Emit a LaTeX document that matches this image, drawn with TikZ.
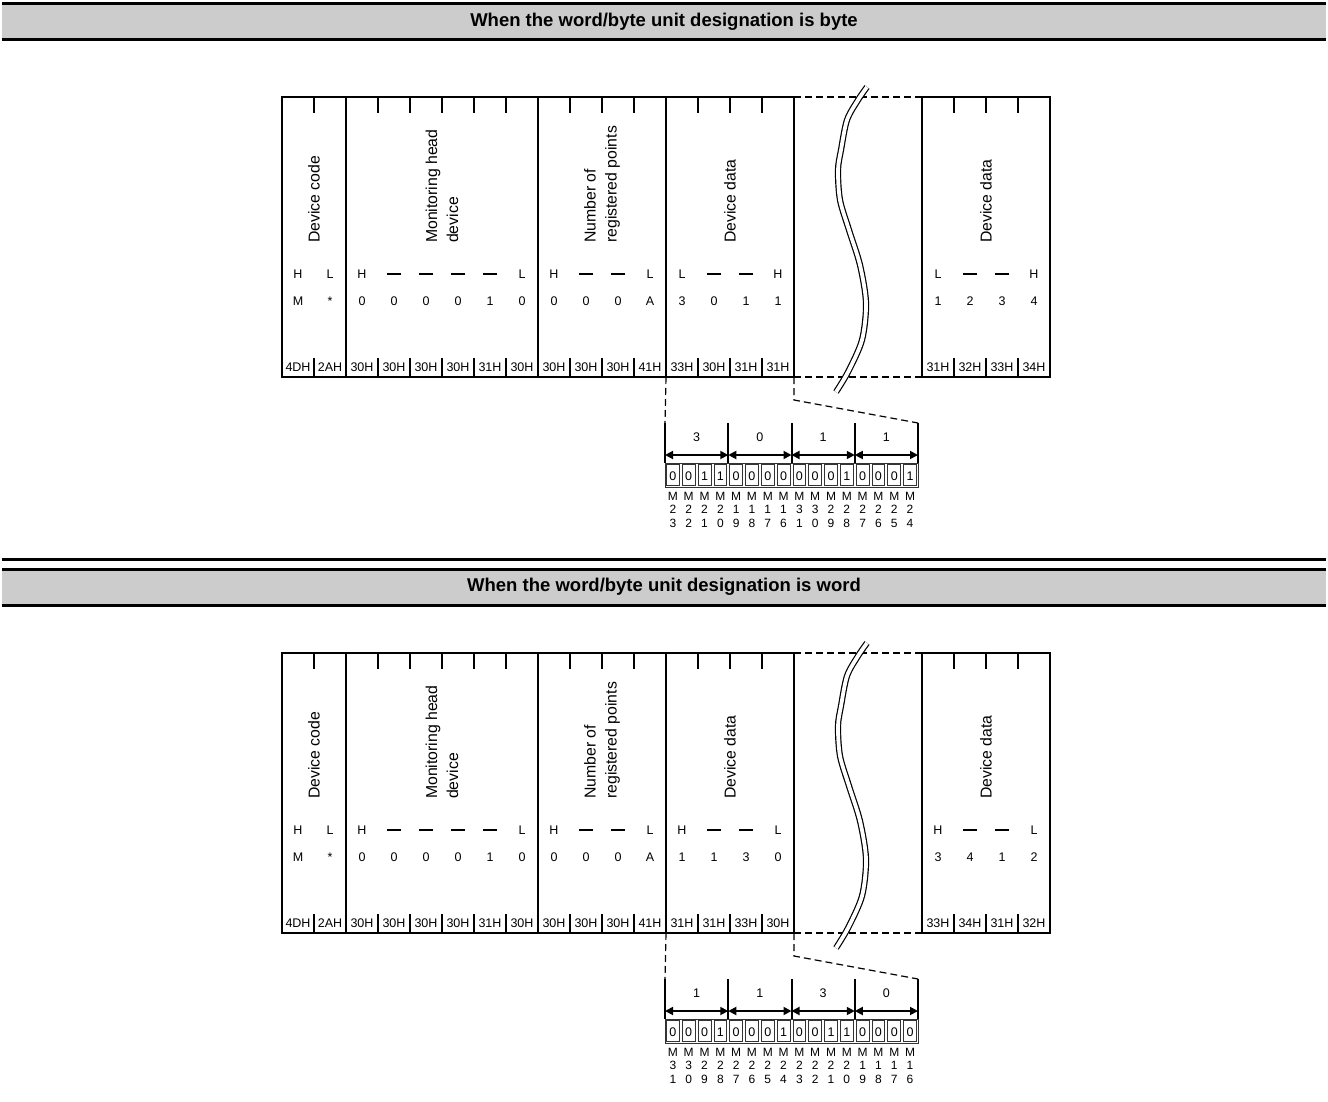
\documentclass[tikz,border=0pt]{standalone}
\usepackage{fontspec}
\setmainfont{Liberation Sans}
\usetikzlibrary{arrows.meta}

\tikzset{
  frameline/.style={line width=2pt},
  gapline/.style={line width=1.2pt, dash pattern=on 7pt off 4pt},
  cellnum/.style={font=\fontsize{12.5}{14}\selectfont, inner sep=0pt, text height=9pt, text depth=0pt},
  fieldname/.style={font=\fontsize{15.8}{21}\selectfont, rotate=90, anchor=west, align=left, inner sep=0pt},
  headtext/.style={font=\fontsize{18.5}{20}\selectfont\bfseries, inner sep=0pt},
  bitbox/.style={line width=0.8pt, draw=black!80},
  bitspan/.style={line width=1.8pt, {Triangle[length=8pt,width=8pt]}-{Triangle[length=8pt,width=8pt]}},
  mlabel/.style={font=\fontsize{12}{13.5}\selectfont, align=center, inner sep=0pt, anchor=north},
}
\newcommand{\dsh}{\rule[3.5pt]{14pt}{2pt}}

% #1 tag, #2 shift down, #3 device data cells, #4 digits, #5 bits
\newcommand{\wordframe}[5]{%
\begin{scope}[yshift=-#2pt]
    % Draw the frame blocks and the gap between them
    \draw[frameline] (282,97) rectangle (794,377);
    \draw[frameline] (922,97) rectangle (1050,377);
    \foreach \x in {346,538,666} \draw[frameline] (\x,97) -- (\x,377);
    \foreach \x in {314,378,410,442,474,506,570,602,634,698,730,762,954,986,1018} {
        \draw[frameline] (\x,97) -- (\x,113);
        \draw[frameline] (\x,358) -- (\x,377);
    }
    \coordinate (#1-fl) at (666,377);
    \coordinate (#1-fr) at (794,377);
    \draw[gapline] (794,97) -- (922,97);
    \draw[gapline] (#1-fr) -- (922,377);

    % Field names
    \node[fieldname] (#1-code) at (314,243) {Device code};
    \node[fieldname] (#1-head) at (442,243) {Monitoring head\\device};
    \node[fieldname] (#1-pts) at (602,243) {Number of\\registered points};
    \node[fieldname] (#1-data) at (730,243) {Device data};
    \node[fieldname] (#1-last) at (986,243) {Device data};

    % Order, character and code of each cell
    \foreach \ltr/\val/\hexv [count=\i from 0] in {H/M/4DH, L/*/2AH, H/0/30H, \dsh/0/30H,
        \dsh/0/30H, \dsh/0/30H, \dsh/1/31H, L/0/30H, H/0/30H, \dsh/0/30H, \dsh/0/30H, L/A/41H, #3} {
        \pgfmathsetmacro{\cx}{298+32*\i+128*(\i>15)}
        \node[cellnum] (#1-lt\i) at (\cx,274) {\ltr};
        \node[cellnum] (#1-v\i) at (\cx,300.5) {\val};
        \node[cellnum] (#1-hx\i) at (\cx,367) {\hexv};
    }

    % Break in the frame
    \draw[line width=1.2pt, double distance=3.8pt] plot[smooth] coordinates {(867,87) (858,100)
        (847,120) (841,150) (838,170) (840,200) (849,230) (860,265) (866,303) (862,340) (848,372) (836,392)};

    % Bits of the first device data
    \foreach \k in {0,...,4} {
        \coordinate (#1-b\k) at ({665+63.25*\k},423);
        \coordinate (#1-a\k) at ({665+63.25*\k},455);
        \draw[frameline] (#1-b\k) -- ++(0,40);
    }
    \draw[gapline] (#1-fl) -- (#1-b0);
    \draw[gapline] (#1-fr) -- ++(0,23) -- (#1-b4);
    \foreach \d [count=\k from 0, evaluate=\k as \n using int(\k+1)] in {#4} {
        \draw[bitspan] (#1-a\k) -- (#1-a\n);
        \node[cellnum] (#1-d\k) at ({696.6+63.25*\k},437) {\d};
    }
    \draw[bitbox] (665,463) rectangle (918,487);
    \foreach \b/\hi/\lo [count=\k from 0] in {#5} {
        \draw[bitbox] ({665+15.81*\k+1.5},464.5) rectangle ({665+15.81*(\k+1)-1.5},485.5);
        \node[cellnum] (#1-bit\k) at ({665+15.81*(\k+0.5)},476) {\b};
        \node[mlabel] (#1-m\k) at ({665+15.81*(\k+0.5)},492) {M\\\hi\\\lo};
    }
\end{scope}}

\begin{document}
\begin{tikzpicture}[x=1pt, y=-1pt]
    \useasboundingbox (0,0) rectangle (1328,1102);

    % Headings
    \foreach \hy/\ttl [count=\s] in {4/byte, 569/word} {
        \fill[black!20] (2,\hy) rectangle (1326,{\hy+36});
        \draw[line width=3pt] (2,\hy) -- (1326,\hy);
        \draw[line width=3pt] (2,{\hy+36}) -- (1326,{\hy+36});
        \node[headtext] (title\s) at (664,{\hy+18}) {When the word/byte unit designation is \ttl};
    }
    \draw[line width=3pt] (2,559) -- (1326,559);

    % Byte units
    \wordframe{s1}{0}{L/3/33H, \dsh/0/30H, \dsh/1/31H, H/1/31H, L/1/31H, \dsh/2/32H, \dsh/3/33H, H/4/34H}
        {3,0,1,1}
        {0/2/3, 0/2/2, 1/2/1, 1/2/0, 0/1/9, 0/1/8, 0/1/7, 0/1/6, 0/3/1, 0/3/0, 0/2/9, 1/2/8, 0/2/7, 0/2/6, 0/2/5, 1/2/4}

    % Word units
    \wordframe{s2}{556}{H/1/31H, \dsh/1/31H, \dsh/3/33H, L/0/30H, H/3/33H, \dsh/4/34H, \dsh/1/31H, L/2/32H}
        {1,1,3,0}
        {0/3/1, 0/3/0, 0/2/9, 1/2/8, 0/2/7, 0/2/6, 0/2/5, 1/2/4, 0/2/3, 0/2/2, 1/2/1, 1/2/0, 0/1/9, 0/1/8, 0/1/7, 0/1/6}
\end{tikzpicture}
\end{document}
